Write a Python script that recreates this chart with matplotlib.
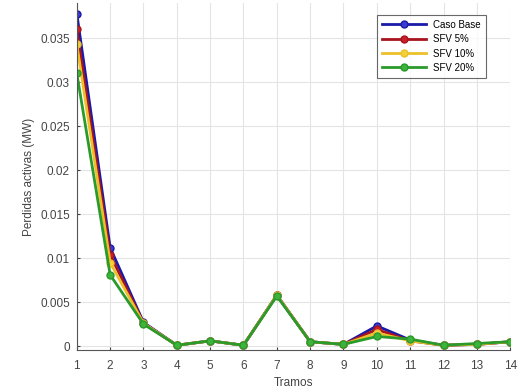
import numpy as np
import matplotlib
matplotlib.use("Agg")
from matplotlib import pyplot as plt

tramos = list(range(1, 15))
caso_base = [0.0378, 0.0112, 0.0027, 0.0001, 0.0006, 0.0001, 0.0058, 0.0005, 0.0002, 0.0023, 0.0007, 0.0001, 0.0002, 0.0005]
sfv_5 = [0.0360, 0.0104, 0.0026, 0.0001, 0.0006, 0.0001, 0.0058, 0.0005, 0.0002, 0.0019, 0.0006, 0.0001, 0.0002, 0.0005]
sfv_10 = [0.0343, 0.0095, 0.0026, 0.0001, 0.0006, 0.0001, 0.0058, 0.0005, 0.0002, 0.0015, 0.0006, 0.0001, 0.0002, 0.0005]
sfv_20 = [0.0310, 0.0081, 0.0025, 0.0001, 0.0006, 0.0001, 0.0057, 0.0005, 0.0002, 0.0011, 0.0008, 0.0001, 0.0003, 0.0005]

series = [
    ("Caso Base", caso_base, "#1a1aa8", "#3b3bd0"),
    ("SFV 5%", sfv_5, "#a8141e", "#c8202a"),
    ("SFV 10%", sfv_10, "#ecc02a", "#f2d23c"),
    ("SFV 20%", sfv_20, "#2a9a2a", "#3cb43c"),
]

plt.rcParams['font.family'] = ['Liberation Sans', 'DejaVu Sans']

fig = plt.figure(figsize=(5.19, 3.89), dpi=100)
ax = fig.add_axes([0.148, 0.10, 0.835, 0.892])

for name, vals, col, mcol in series:
    ax.plot(tramos, vals, color=col, lw=2, marker='o', ms=5,
            mfc=mcol, mec=col, label=name)

ax.set_xlim(1, 14)
ax.set_ylim(-0.00045, 0.039)
ax.set_xticks(tramos)
ax.set_yticks(np.arange(0, 0.0351, 0.005))
ax.set_yticklabels(["0", "0.005", "0.01", "0.015", "0.02", "0.025", "0.03", "0.035"])
ax.grid(True, color="#e4e4e4", lw=0.8)
ax.set_axisbelow(True)
for s in ["top", "right"]:
    ax.spines[s].set_visible(False)
for s in ["left", "bottom"]:
    ax.spines[s].set_color("#555555")
ax.tick_params(colors="#444444", labelsize=8.5, length=2, direction="in")
ax.tick_params(axis="x", pad=7)
ax.tick_params(axis="y", pad=5)
ax.set_xlabel("Tramos", fontsize=8.5, color="#444444", labelpad=4)
ax.set_ylabel("Perdidas activas (MW)", fontsize=8.5, color="#444444", labelpad=4)

leg = ax.legend(loc="upper right", fontsize=7, frameon=True, fancybox=False,
                edgecolor="#444444", borderpad=0.5, labelspacing=0.45,
                handlelength=4.5, bbox_to_anchor=(0.955, 0.98))
leg.get_frame().set_linewidth(0.8)

plt.savefig("out.png", dpi=100)
